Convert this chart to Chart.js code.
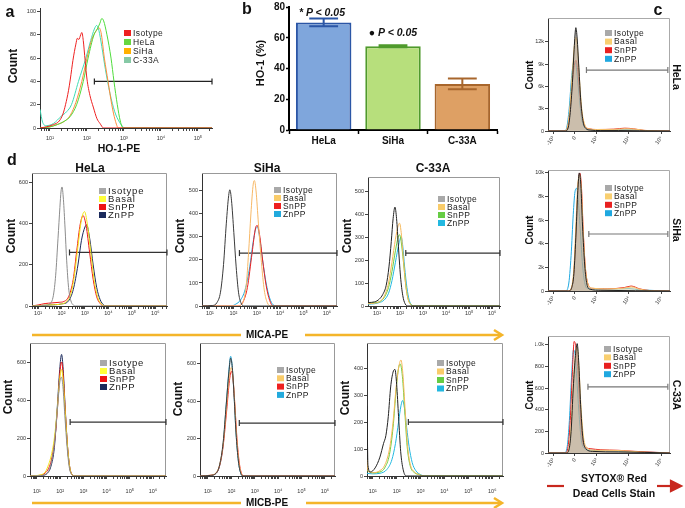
<!DOCTYPE html>
<html>
<head>
<meta charset="utf-8">
<title>HO-1, MICA and MICB flow cytometry</title>
<script src="https://cdn.jsdelivr.net/npm/chart.js@4.4.1/dist/chart.umd.min.js"></script>
<style>
  body { margin: 0; background: #fff; }
  #fig { position: relative; width: 685px; height: 508px; overflow: hidden; font-family: Arial, "Liberation Sans", sans-serif; }
  #fig canvas, #fig svg { position: absolute; left: 0; top: 0; }
  .t { position: absolute; white-space: nowrap; font-weight: bold; color: #111; line-height: 1; transform: translate(-50%, -50%); }
</style>
</head>
<body>
<div id="fig">
<svg width="685" height="508">
  <g stroke="#f4b52a" stroke-width="2.5" fill="none">
    <line x1="32" y1="335" x2="241" y2="335"/>
    <line x1="305" y1="335" x2="500" y2="335"/>
    <polyline points="494,330 502,335 494,340"/>
    <line x1="32" y1="503" x2="241" y2="503"/>
    <line x1="306" y1="503" x2="500" y2="503"/>
    <polyline points="494,498 502,503 494,508"/>
  </g>
  <g stroke="#c8281e" stroke-width="2.2" fill="#c8281e">
    <line x1="547" y1="486" x2="564" y2="486"/>
    <line x1="657" y1="486" x2="674" y2="486"/>
    <polygon points="671,481 681,486 671,491"/>
  </g>
</svg>
</div>
<script>
// ---- a: HO-1-PE histograms, x = log10 fluorescence, y = count
const aYTicks = [0, 20, 40, 60, 80, 100];
const aIsotype = [[0.73,0],[0.9,1],[1.1,3],[1.25,6],[1.35,12],[1.42,20],[1.5,32],[1.55,42],[1.62,58],[1.7,72],[1.74,77],[1.78,76],[1.83,80],[1.86,82],[1.9,75],[1.95,58],[2.0,42],[2.08,28],[2.17,18],[2.27,8],[2.35,4],[2.45,0],[5.38,0]];
const aHeLa = [[0.73,0],[1.0,1],[1.2,3],[1.4,6],[1.55,10],[1.72,20],[1.9,40],[2.03,60],[2.19,80],[2.28,85],[2.35,90],[2.4,94],[2.45,92],[2.54,80],[2.65,60],[2.73,40],[2.82,20],[2.9,6],[2.98,0],[5.38,0]];
const aSiHa = [[0.73,0],[1.0,1],[1.2,3],[1.4,6],[1.55,11],[1.7,22],[1.86,40],[2.0,60],[2.12,75],[2.22,82],[2.32,86],[2.38,82],[2.47,60],[2.57,40],[2.67,20],[2.76,7],[2.85,0],[5.38,0]];
const aC33A = [[0.73,16],[0.8,5],[0.9,2],[1.1,4],[1.3,10],[1.45,14],[1.58,20],[1.77,40],[1.97,60],[2.1,75],[2.2,85],[2.26,88],[2.32,84],[2.4,70],[2.5,50],[2.62,30],[2.75,14],[2.88,5],[3.03,0],[5.38,0]];
const aGate = [[2.2,40],[5.38,40]];

// ---- b: HO-1 positive cells (%)
const bCats = ['HeLa', 'SiHa', 'C-33A'];
const bMean = [70, 54.5, 30];
const bErr = [2.5, 0.6, 3.5];

// ---- c: SYTOX Red dead cell stain (biexponential display units)
const cTickVals = [-1, 0, 1, 2.5, 4];
const cTickText = ['-10³', '0', '10³', '10⁴', '10⁵'];
const c1YTicks = [0, 3000, 6000, 9000, 12000];
const c2YTicks = [0, 2000, 4000, 6000, 8000, 10000];
const c3YTicks = [0, 200, 400, 600, 800, 1000];
const c1Iso = [[-1.25,0],[-0.45,0],[-0.32,400],[-0.22,2500],[-0.12,6500],[-0.04,11000],[0.04,13900],[0.1,12500],[0.18,8500],[0.27,4000],[0.38,1200],[0.5,350],[0.7,120],[1.2,60],[2.0,60],[3.0,30],[4.4,0]];
const c1Basal = [[-1.25,0],[-0.5,0],[-0.35,500],[-0.24,3000],[-0.12,8000],[-0.02,11800],[0.05,12600],[0.13,10500],[0.22,6500],[0.32,2800],[0.45,900],[0.65,300],[1.0,200],[1.8,220],[2.4,300],[2.8,250],[3.3,60],[4.4,0]];
const c1SnPP = [[-1.25,0],[-0.5,0],[-0.35,400],[-0.24,2500],[-0.12,6500],[-0.02,9000],[0.05,9500],[0.13,8000],[0.22,5000],[0.32,2200],[0.45,700],[0.65,300],[1.0,200],[1.8,250],[2.3,380],[2.7,300],[3.2,80],[4.4,0]];
const c1ZnPP = [[-1.25,0],[-0.5,0],[-0.38,500],[-0.27,3000],[-0.15,7500],[-0.05,9300],[0.02,9200],[0.1,7500],[0.2,4500],[0.3,1800],[0.42,600],[0.6,250],[1.0,150],[2.0,180],[2.6,220],[3.2,50],[4.4,0]];
const c1Gate = [[0.53,8200],[4.3,8200]];
const c2Iso = [[-1.25,0],[-0.3,0],[-0.15,300],[-0.05,1500],[0.05,5000],[0.13,8500],[0.2,10000],[0.27,9000],[0.35,5500],[0.45,2200],[0.55,600],[0.7,150],[1.2,60],[4.4,0]];
const c2Basal = [[-1.25,0],[-0.3,0],[-0.15,400],[-0.05,2000],[0.05,6000],[0.13,9000],[0.22,9800],[0.3,8500],[0.38,5000],[0.48,2000],[0.6,600],[0.8,250],[1.5,180],[2.3,250],[2.6,350],[3.0,150],[3.5,30],[4.4,0]];
const c2SnPP = [[-1.25,0],[-0.3,0],[-0.15,300],[-0.05,1500],[0.05,5000],[0.14,8800],[0.22,10000],[0.3,8800],[0.38,5200],[0.48,2000],[0.6,600],[0.8,220],[1.5,180],[2.3,300],[2.6,420],[3.0,180],[3.5,30],[4.4,0]];
const c2ZnPP = [[-1.25,0],[-0.45,0],[-0.3,500],[-0.18,3000],[-0.08,6500],[0.0,8400],[0.08,8700],[0.16,7500],[0.25,5000],[0.35,2200],[0.45,700],[0.6,200],[1.5,150],[2.5,200],[3.0,100],[4.4,0]];
const c2Gate = [[0.64,4830],[4.3,4830]];
const c3Iso = [[-1.25,0],[-0.4,0],[-0.28,30],[-0.18,200],[-0.08,600],[0.02,900],[0.1,1010],[0.17,850],[0.26,450],[0.36,150],[0.5,40],[0.8,15],[2.0,10],[4.4,0]];
const c3Basal = [[-1.25,0],[-0.4,0],[-0.28,40],[-0.18,250],[-0.08,650],[0.02,900],[0.1,980],[0.18,800],[0.28,420],[0.4,140],[0.55,50],[0.9,25],[1.5,25],[2.3,20],[3.0,10],[4.4,0]];
const c3SnPP = [[-1.25,0],[-0.45,0],[-0.32,60],[-0.22,300],[-0.12,750],[-0.04,1030],[0.04,980],[0.12,800],[0.22,450],[0.32,160],[0.45,60],[0.7,40],[1.2,30],[2.0,25],[2.8,15],[4.4,0]];
const c3ZnPP = [[-1.25,0],[-0.5,0],[-0.36,60],[-0.26,300],[-0.16,700],[-0.07,950],[0.0,920],[0.08,700],[0.18,380],[0.28,140],[0.4,50],[0.7,25],[1.5,20],[4.4,0]];
const c3Gate = [[0.6,611],[4.3,611]];

// ---- d: MICA-PE (top row) and MICB-PE (bottom row), x = log10 fluorescence
const d1YTicks = [0, 200, 400, 600];
const d2YTicks = [0, 100, 200, 300, 400, 500];
const d3YTicks = [0, 100, 200, 300, 400, 500];
const d4YTicks = [0, 200, 400, 600];
const d5YTicks = [0, 200, 400, 600];
const d6YTicks = [0, 100, 200, 300, 400];

const d1Iso = [[0.74,0],[1.3,2],[1.5,10],[1.65,50],[1.75,150],[1.85,330],[1.93,480],[1.98,560],[2.02,580],[2.08,520],[2.15,380],[2.22,220],[2.3,90],[2.4,25],[2.5,5],[2.6,0],[6.5,0]];
const d1Basal = [[0.74,0],[1.2,3],[1.6,6],[2.0,10],[2.2,20],[2.4,60],[2.55,150],[2.7,290],[2.85,420],[2.98,460],[3.1,400],[3.25,260],[3.4,120],[3.55,40],[3.7,10],[3.85,0],[6.5,0]];
const d1SnPP = [[0.74,0],[1.0,5],[1.3,12],[1.6,15],[1.9,18],[2.1,22],[2.3,45],[2.5,130],[2.65,270],[2.8,400],[2.92,440],[3.05,390],[3.2,260],[3.35,130],[3.5,45],[3.65,12],[3.8,0],[6.5,0]];
const d1ZnPP = [[0.74,0],[1.5,5],[2.0,10],[2.3,25],[2.5,80],[2.7,200],[2.85,320],[3.0,385],[3.07,395],[3.2,330],[3.35,200],[3.5,90],[3.65,30],[3.8,5],[3.95,0],[6.5,0]];
const d1Gate = [[2.34,261],[6.5,261]];

const d2Iso = [[0.66,0],[1.1,2],[1.3,15],[1.45,60],[1.58,180],[1.7,360],[1.8,480],[1.85,505],[1.92,460],[2.02,320],[2.12,170],[2.22,60],[2.32,15],[2.45,0],[6.43,0]];
const d2Basal = [[0.66,0],[2.2,0],[2.4,15],[2.55,90],[2.65,230],[2.75,400],[2.85,530],[2.9,545],[2.97,500],[3.07,360],[3.2,190],[3.32,70],[3.45,15],[3.6,0],[6.43,0]];
const d2SnPP = [[0.66,0],[2.2,0],[2.4,15],[2.6,80],[2.8,230],[2.95,340],[3.02,350],[3.12,310],[3.25,200],[3.4,90],[3.55,25],[3.7,0],[6.43,0]];
const d2ZnPP = [[0.66,0],[1.9,0],[2.1,8],[2.3,25],[2.5,70],[2.7,170],[2.85,280],[2.97,340],[3.03,345],[3.12,300],[3.25,200],[3.4,100],[3.55,35],[3.7,5],[3.85,0],[6.43,0]];
const d2Gate = [[2.26,230],[6.43,230]];

const d3Iso = [[0.61,15],[0.9,18],[1.1,30],[1.25,50],[1.4,90],[1.52,170],[1.62,280],[1.7,380],[1.78,430],[1.85,380],[1.93,260],[2.02,130],[2.12,45],[2.22,10],[2.35,0],[6.34,0]];
const d3Basal = [[0.61,10],[0.9,12],[1.1,18],[1.3,40],[1.5,100],[1.65,190],[1.8,290],[1.92,350],[1.98,360],[2.05,320],[2.15,200],[2.25,90],[2.35,30],[2.45,8],[2.55,0],[6.34,0]];
const d3SnPP = [[0.61,12],[0.9,15],[1.1,18],[1.3,35],[1.5,80],[1.65,150],[1.8,240],[1.92,300],[1.98,310],[2.05,280],[2.15,190],[2.25,90],[2.35,30],[2.5,5],[2.6,0],[6.34,0]];
const d3ZnPP = [[0.61,8],[0.9,10],[1.1,15],[1.3,25],[1.5,55],[1.65,110],[1.8,190],[1.95,270],[2.05,300],[2.12,260],[2.2,170],[2.3,80],[2.4,25],[2.5,5],[2.6,0],[6.34,0]];
const d3Gate = [[2.25,230],[6.34,230]];

const d4Iso = [[0.7,0],[1.2,3],[1.45,15],[1.6,60],[1.75,170],[1.88,350],[1.98,490],[2.05,520],[2.12,470],[2.2,320],[2.3,150],[2.4,40],[2.52,5],[2.6,0],[6.56,0]];
const d4Basal = [[0.7,0],[1.1,5],[1.35,20],[1.5,60],[1.62,110],[1.75,200],[1.88,360],[1.98,510],[2.06,560],[2.13,500],[2.22,330],[2.32,150],[2.42,40],[2.53,5],[2.6,0],[6.56,0]];
const d4SnPP = [[0.7,0],[1.1,3],[1.35,15],[1.5,40],[1.65,100],[1.8,230],[1.92,420],[2.0,560],[2.06,600],[2.13,530],[2.22,340],[2.32,150],[2.42,40],[2.53,5],[2.6,0],[6.56,0]];
const d4ZnPP = [[0.7,0],[1.2,3],[1.45,15],[1.6,50],[1.75,150],[1.88,370],[1.98,560],[2.06,640],[2.13,560],[2.22,350],[2.32,150],[2.42,40],[2.53,5],[2.6,0],[6.56,0]];
const d4Gate = [[2.43,284],[6.56,284]];

const d5Iso = [[0.66,0],[1.1,3],[1.35,15],[1.5,60],[1.65,180],[1.78,380],[1.9,560],[1.97,630],[2.04,580],[2.12,420],[2.2,230],[2.3,80],[2.4,15],[2.5,0],[6.43,0]];
const d5Basal = [[0.66,0],[1.1,4],[1.35,18],[1.5,60],[1.65,170],[1.78,350],[1.9,520],[1.99,580],[2.06,540],[2.14,400],[2.22,220],[2.32,80],[2.42,15],[2.52,0],[6.43,0]];
const d5SnPP = [[0.66,0],[1.1,4],[1.35,15],[1.5,55],[1.65,160],[1.8,350],[1.92,510],[2.0,560],[2.07,520],[2.15,380],[2.24,200],[2.34,70],[2.44,12],[2.54,0],[6.43,0]];
const d5ZnPP = [[0.66,0],[1.1,3],[1.35,15],[1.5,55],[1.65,170],[1.78,380],[1.9,570],[1.97,640],[2.04,580],[2.12,420],[2.2,230],[2.3,80],[2.4,15],[2.5,0],[6.43,0]];
const d5Gate = [[2.34,283],[6.43,283]];

const d6Iso = [[0.76,260],[0.8,40],[0.9,15],[1.1,30],[1.3,70],[1.45,120],[1.55,150],[1.65,220],[1.75,330],[1.85,385],[1.93,395],[2.0,340],[2.08,220],[2.17,90],[2.27,25],[2.4,0],[6.45,0]];
const d6Basal = [[0.76,60],[0.8,20],[1.0,12],[1.3,20],[1.5,40],[1.7,100],[1.85,200],[1.98,330],[2.08,400],[2.18,430],[2.26,380],[2.36,240],[2.46,110],[2.58,40],[2.75,15],[2.95,5],[3.1,0],[6.45,0]];
const d6SnPP = [[0.76,20],[1.0,12],[1.3,15],[1.5,30],[1.7,80],[1.85,180],[1.98,320],[2.08,400],[2.15,415],[2.24,370],[2.34,240],[2.44,110],[2.56,40],[2.75,12],[2.95,5],[3.1,0],[6.45,0]];
const d6ZnPP = [[0.76,10],[1.0,8],[1.3,10],[1.6,25],[1.8,60],[1.95,120],[2.08,200],[2.18,260],[2.25,280],[2.33,250],[2.42,180],[2.52,110],[2.65,50],[2.8,20],[3.0,5],[3.15,0],[6.45,0]];
const d6Gate = [[2.49,200],[6.45,200]];

Chart.defaults.font.family = 'Arial, "Liberation Sans", sans-serif';
Chart.defaults.color = '#222';
Chart.defaults.animation = false;

const FW = 685, FH = 508;
const SUP = ['⁰', '¹', '²', '³', '⁴', '⁵', '⁶'];
const fig = document.getElementById('fig');

function pts(a) { return a.map(p => ({ x: p[0], y: p[1] })); }

function addCanvas() {
  const c = document.createElement('canvas');
  c.width = FW; c.height = FH;
  c.style.width = FW + 'px'; c.style.height = FH + 'px';
  fig.appendChild(c);
  return c;
}

function text(s, x, y, size, extra) {
  const d = document.createElement('div');
  d.className = 't';
  d.textContent = s;
  d.style.left = x + 'px';
  d.style.top = y + 'px';
  d.style.fontSize = size + 'px';
  if (extra) Object.assign(d.style, extra);
  fig.appendChild(d);
}
const up = { transform: 'translate(-50%,-50%) rotate(-90deg)' };
const down = { transform: 'translate(-50%,-50%) rotate(90deg)' };

// every chart uses a full-size canvas; padding puts the plot box where it belongs
function place(x0, y0, x1, y1, yw, xh) {
  return { autoPadding: false, padding: { left: x0 - yw, top: y0, right: FW - x1, bottom: FH - y1 - xh } };
}

function decadeTicks(min, max) {
  const t = [];
  for (let n = Math.floor(min); n <= Math.ceil(max); n++)
    for (let k = 1; k <= 9; k++) {
      const v = n + Math.log10(k);
      if (v >= min && v <= max) t.push({ value: v });
    }
  return t;
}

// top and right edges of the plot box
const framePlugin = {
  id: 'frame',
  beforeDatasetsDraw(chart, args, o) {
    if (!o.color) return;
    const a = chart.chartArea, ctx = chart.ctx;
    ctx.save();
    ctx.strokeStyle = o.color; ctx.lineWidth = 1;
    ctx.beginPath();
    ctx.moveTo(a.left, a.top + 0.5); ctx.lineTo(a.right - 0.5, a.top + 0.5); ctx.lineTo(a.right - 0.5, a.bottom);
    ctx.stroke();
    ctx.restore();
  }
};

// small legend placed inside the plot
const keyPlugin = {
  id: 'key',
  afterDraw(chart, args, o) {
    if (o.x === undefined) return;
    const ctx = chart.ctx;
    ctx.save();
    ctx.font = (o.size || 8.5) + 'px Arial, "Liberation Sans", sans-serif';
    ctx.textBaseline = 'middle';
    if ('letterSpacing' in ctx) ctx.letterSpacing = (o.ls || 0.4) + 'px';
    let row = 0;
    chart.data.datasets.forEach(ds => {
      if (!ds.key) return;
      const y = o.y + row * o.dy;
      ctx.fillStyle = ds.key;
      ctx.fillRect(o.x, y - 3, 7, 6);
      ctx.fillStyle = '#222';
      ctx.fillText(ds.label, o.x + 9, y + 0.5);
      row++;
    });
    ctx.restore();
  }
};

const errPlugin = {
  id: 'errbars',
  afterDatasetsDraw(chart) {
    const ds = chart.data.datasets[0];
    const meta = chart.getDatasetMeta(0), ys = chart.scales.y, ctx = chart.ctx;
    ctx.save();
    meta.data.forEach((bar, i) => {
      const hi = ys.getPixelForValue(ds.data[i] + ds.err[i]);
      const lo = ys.getPixelForValue(ds.data[i] - ds.err[i]);
      const w = bar.width * 0.26;
      ctx.strokeStyle = ds.borderColor[i];
      ctx.lineWidth = 2;
      ctx.beginPath();
      ctx.moveTo(bar.x, hi); ctx.lineTo(bar.x, lo);
      ctx.moveTo(bar.x - w, hi); ctx.lineTo(bar.x + w, hi);
      ctx.moveTo(bar.x - w, lo); ctx.lineTo(bar.x + w, lo);
      ctx.stroke();
    });
    ctx.restore();
  }
};

function hist(p) {
  const [x0, y0, x1, y1] = p.area;
  const yw = p.yw || 13, xh = p.xh || 14;
  const sets = p.series.map(s => ({
    label: s.label, key: s.key || s.line,
    data: pts(s.data),
    borderColor: s.line, borderWidth: s.w || 1,
    backgroundColor: s.fill || 'transparent', fill: s.fill ? 'origin' : false,
    pointRadius: 0, cubicInterpolationMode: 'monotone'
  }));
  sets.push({
    data: pts(p.gate), borderColor: p.gateColor || '#333', borderWidth: 1.2,
    pointStyle: 'line', pointRadius: 3, pointRotation: 90,
    pointBorderColor: p.gateColor || '#333', pointBorderWidth: 1.2, clip: false
  });
  const tickFont = { size: 5.5 };
  const x = p.biex ? {
    type: 'linear', min: -1.25, max: 4.4,
    afterBuildTicks: s => { s.ticks = cTickVals.map(v => ({ value: v })); },
    ticks: { autoSkip: false, minRotation: 55, maxRotation: 55, font: tickFont, color: '#444', padding: 1,
             callback: (v, i) => cTickText[i] }
  } : {
    type: 'linear', min: p.xmin, max: p.xmax,
    afterBuildTicks: s => { s.ticks = decadeTicks(p.xmin, p.xmax); },
    ticks: { autoSkip: false, maxRotation: 0, font: tickFont, color: '#333', padding: p.xpad || 1,
             callback: v => Number.isInteger(v) ? '10' + SUP[v] : '' }
  };
  x.afterFit = s => { s.height = xh; };
  x.grid = { drawOnChartArea: false, tickLength: 3, tickColor: '#444' };
  x.border = { color: '#333', width: 1 };
  new Chart(addCanvas(), {
    type: 'line',
    data: { datasets: sets },
    options: {
      responsive: false, animation: false, layout: place(x0, y0, x1, y1, yw, xh),
      plugins: { legend: { display: false }, tooltip: { enabled: false },
                 frame: { color: p.frame }, key: p.key },
      scales: {
        x: x,
        y: {
          min: 0, max: p.ymax, afterFit: s => { s.width = yw; },
          afterBuildTicks: s => { s.ticks = p.yticks.map(v => ({ value: v })); },
          ticks: { autoSkip: false, font: tickFont, color: '#333', padding: 1,
                   callback: p.ylab || (v => v) },
          grid: { drawOnChartArea: false, tickLength: 3, tickColor: '#444' },
          border: { color: '#333', width: 1 }
        }
      }
    },
    plugins: [framePlugin, keyPlugin]
  });
}

const GRAY = '#a9a9a9';
const kLab = v => v === 0 ? '0' : (v / 1000) + 'k';

// a
hist({ area: [40, 8, 212, 128], xmin: 0.73, xmax: 5.38, ymax: 103, yticks: aYTicks, xpad: 4,
  key: { x: 124, y: 33, dy: 9, size: 8.5 }, gate: aGate, gateColor: '#222',
  series: [
    { label: 'Isotype', data: aIsotype, line: '#ee2020' },
    { label: 'HeLa', data: aHeLa, line: '#4fdc3c', key: '#66d640' },
    { label: 'SiHa', data: aSiHa, line: '#ff8a3a', key: '#ffb000' },
    { label: 'C-33A', data: aC33A, line: '#3ddcb4', key: '#86c9a6' }
  ] });

// c
const cSeries = (iso, bas, sn, zn) => [
  { label: 'Isotype', data: iso, line: '#222', key: GRAY, fill: 'rgba(150,140,130,0.45)' },
  { label: 'Basal', data: bas, line: '#f6c46a', key: '#f9cf70', fill: 'rgba(240,215,165,0.55)' },
  { label: 'SnPP', data: sn, line: '#e82020' },
  { label: 'ZnPP', data: zn, line: '#1fa8e0' }
];
hist({ area: [548, 18, 670, 131], biex: true, ymax: 15200, yticks: c1YTicks, ylab: kLab, frame: '#aaa', gateColor: '#777',
  key: { x: 605, y: 33, dy: 8.6 }, gate: c1Gate, series: cSeries(c1Iso, c1Basal, c1SnPP, c1ZnPP) });
hist({ area: [548, 170, 670, 291], biex: true, ymax: 10250, yticks: c2YTicks, ylab: kLab, frame: '#aaa', gateColor: '#777',
  key: { x: 605, y: 188, dy: 8.4 }, gate: c2Gate, series: cSeries(c2Iso, c2Basal, c2SnPP, c2ZnPP) });
hist({ area: [548, 336, 670, 453], biex: true, ymax: 1080, yticks: c3YTicks, ylab: v => v === 1000 ? '1.0k' : v, frame: '#aaa', gateColor: '#777',
  key: { x: 604, y: 349, dy: 8.4 }, gate: c3Gate, series: cSeries(c3Iso, c3Basal, c3SnPP, c3ZnPP) });

// d
const navySet = (iso, bas, sn, zn) => [
  { label: 'Isotype', data: iso, line: '#8c8c8c', key: GRAY },
  { label: 'Basal', data: bas, line: '#f0e418', key: '#ffff3a' },
  { label: 'SnPP', data: sn, line: '#ee1414' },
  { label: 'ZnPP', data: zn, line: '#1b2a5c' }
];
const cyanSet = (iso, bas, sn, zn) => [
  { label: 'Isotype', data: iso, line: '#3a3a3a', key: GRAY },
  { label: 'Basal', data: bas, line: '#f7b866', key: '#f9cc6a' },
  { label: 'SnPP', data: sn, line: '#ee2020' },
  { label: 'ZnPP', data: zn, line: '#22aadd' }
];
const greenSet = (iso, bas, sn, zn) => [
  { label: 'Isotype', data: iso, line: '#222', key: GRAY },
  { label: 'Basal', data: bas, line: '#f5b85a', key: '#f9cc6a' },
  { label: 'SnPP', data: sn, line: '#6ccf3f', key: '#66cc44' },
  { label: 'ZnPP', data: zn, line: '#22b8e0' }
];
hist({ area: [32, 173, 167, 306], xmin: 0.74, xmax: 6.5, ymax: 648, yticks: d1YTicks, frame: '#999',
  key: { x: 99, y: 191, dy: 8, size: 9.5, ls: 0.8 }, gate: d1Gate, series: navySet(d1Iso, d1Basal, d1SnPP, d1ZnPP) });
hist({ area: [202, 173, 337, 306], xmin: 0.66, xmax: 6.43, ymax: 578, yticks: d2YTicks, frame: '#999',
  key: { x: 274, y: 190, dy: 8 }, gate: d2Gate, series: cyanSet(d2Iso, d2Basal, d2SnPP, d2ZnPP) });
hist({ area: [368, 177, 500, 306], xmin: 0.61, xmax: 6.34, ymax: 561, yticks: d3YTicks, frame: '#999',
  key: { x: 438, y: 199, dy: 8 }, gate: d3Gate, series: greenSet(d3Iso, d3Basal, d3SnPP, d3ZnPP) });
hist({ area: [30, 343, 166, 476], xmin: 0.7, xmax: 6.56, ymax: 700, yticks: d4YTicks, frame: '#999', xh: 20, xpad: 9,
  key: { x: 100, y: 363, dy: 8, size: 9.5, ls: 0.6 }, gate: d4Gate, series: navySet(d4Iso, d4Basal, d4SnPP, d4ZnPP) });
hist({ area: [200, 343, 335, 476], xmin: 0.66, xmax: 6.43, ymax: 711, yticks: d5YTicks, frame: '#999', xh: 20, xpad: 9,
  key: { x: 277, y: 370, dy: 8.3 }, gate: d5Gate, series: cyanSet(d5Iso, d5Basal, d5SnPP, d5ZnPP) });
hist({ area: [367, 343, 503, 476], xmin: 0.76, xmax: 6.45, ymax: 493, yticks: d6YTicks, frame: '#999', xh: 20, xpad: 9,
  key: { x: 437, y: 363, dy: 8.5 }, gate: d6Gate, series: greenSet(d6Iso, d6Basal, d6SnPP, d6ZnPP) });

// b
new Chart(addCanvas(), {
  type: 'bar',
  data: {
    labels: bCats,
    datasets: [{
      data: bMean, err: bErr,
      backgroundColor: ['#7fa6dc', '#b7df7c', '#dea064'],
      borderColor: ['#2b56a6', '#4f9a2c', '#a8662c'],
      borderWidth: 2, barPercentage: 0.8, categoryPercentage: 1
    }]
  },
  options: {
    responsive: false, animation: false, layout: place(289, 7, 497, 130, 20, 16),
    plugins: { legend: { display: false }, tooltip: { enabled: false } },
    scales: {
      x: { afterFit: s => { s.height = 16; },
           grid: { drawOnChartArea: false, tickLength: 4, tickColor: '#000', tickWidth: 1.5 },
           border: { color: '#000', width: 2 },
           ticks: { color: '#111', font: { size: 10, weight: 'bold' }, padding: 1 } },
      y: { min: 0, max: 80, afterFit: s => { s.width = 20; },
           grid: { drawOnChartArea: false, tickLength: 3, tickColor: '#000', tickWidth: 1.5 },
           border: { color: '#000', width: 2 },
           ticks: { stepSize: 20, color: '#111', font: { size: 10, weight: 'bold' }, padding: 1 } }
    }
  },
  plugins: [errPlugin]
});

// panel letters and axis titles
text('a', 10, 12, 16);
text('b', 247, 9, 16);
text('c', 658, 10, 16);
text('d', 12, 160, 16);
text('Count', 13, 66, 12, up);
text('HO-1-PE', 119, 148, 10.5);
text('HO-1 (%)', 260, 63, 11, up);
text('* P < 0.05', 322, 12, 10.5, { fontStyle: 'italic' });
text('● P < 0.05', 393, 32, 10.5, { fontStyle: 'italic' });

text('HeLa', 90, 168, 12);
text('SiHa', 267, 168, 12);
text('C-33A', 433, 168, 12);
text('Count', 11, 236, 12, up);
text('Count', 180, 236, 12, up);
text('Count', 347, 236, 12, up);
text('Count', 8, 397, 12, up);
text('Count', 178, 399, 12, up);
text('Count', 345, 398, 12, up);
text('MICA-PE', 267, 335, 10);
text('MICB-PE', 267, 503, 10);

text('Count', 530, 75, 10, up);
text('Count', 530, 230, 10, up);
text('Count', 530, 395, 10, up);
text('HeLa', 677, 77, 10.5, down);
text('SiHa', 677, 230, 10.5, down);
text('C-33A', 677, 395, 10.5, down);
text('SYTOX® Red', 614, 478, 10.5);
text('Dead Cells Stain', 614, 493, 10.5);
</script>
</body>
</html>
